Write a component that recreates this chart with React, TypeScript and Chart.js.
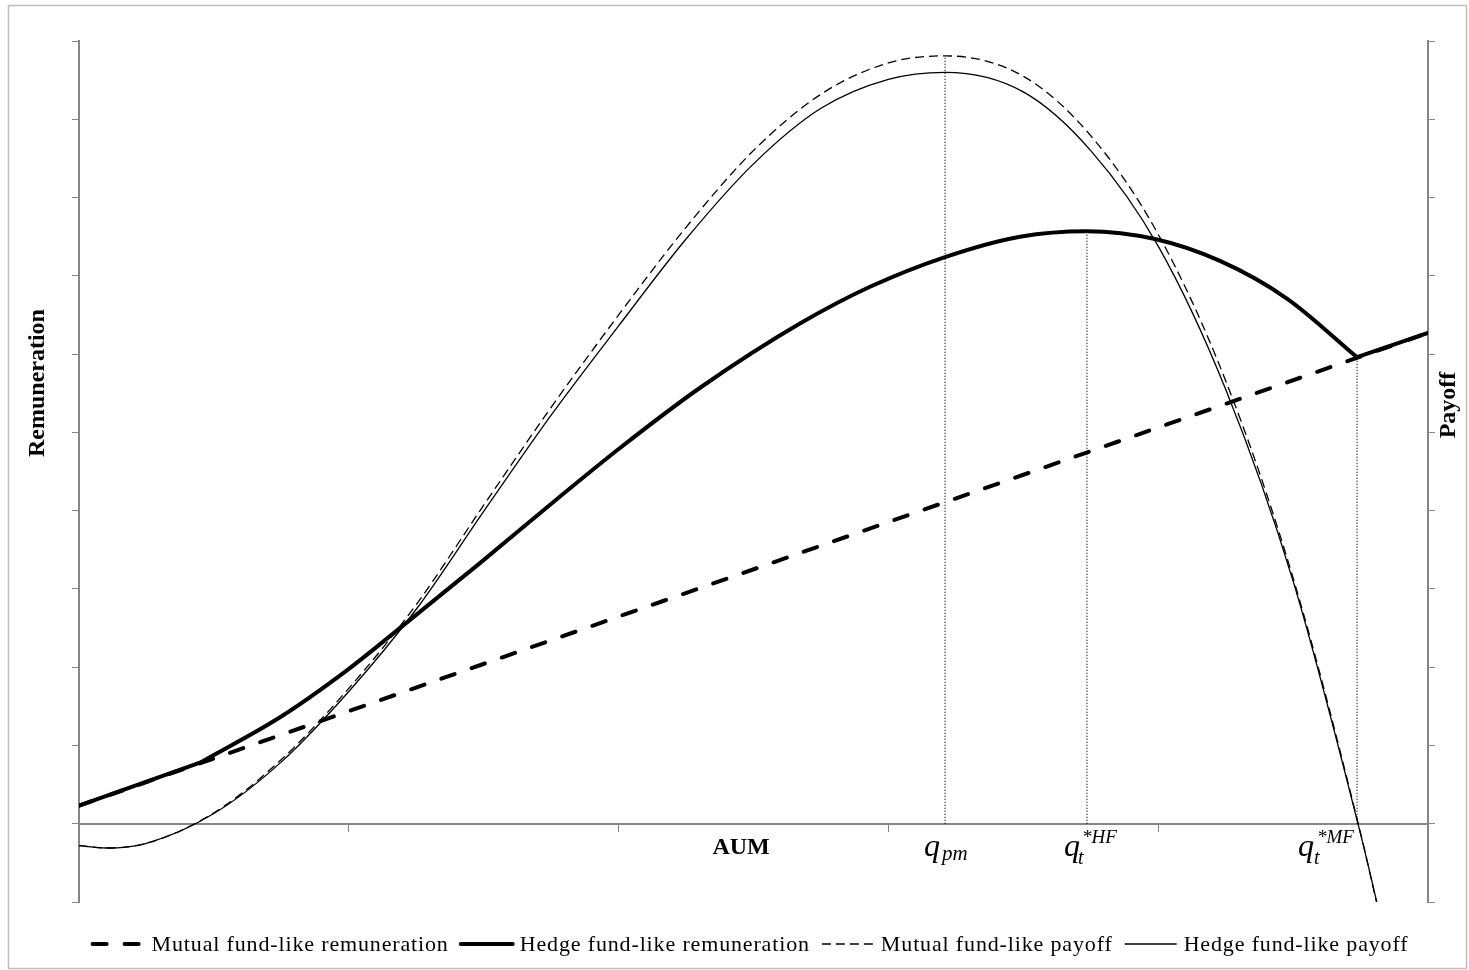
import React, { useEffect, useRef } from 'react';
import { Chart, registerables } from 'chart.js';

Chart.register(...registerables);

// ---- axes ----
const X_MIN = 0;
const X_MAX = 5;
const Y_MIN = -1;
const Y_MAX = 10;

// ---- series (AUM on x, value on y) ----
const MF_REM_X = [0, 5];
const MF_REM_Y = [0.23, 6.27];

const HF_REM_X = [0, 0.4485, 0.745, 0.993, 1.179, 1.486, 1.783, 2.005, 2.302, 2.672, 2.932, 3.21, 3.488, 3.736, 3.988, 4.229, 4.477, 4.737, 5.0];
const HF_REM_Y = [0.23, 0.78, 1.36, 1.96, 2.47, 3.33, 4.18, 4.8, 5.57, 6.39, 6.86, 7.24, 7.5, 7.57, 7.47, 7.19, 6.71, 5.96, 6.27];
const HF_REM_KINKS = [0.4485, 4.737];

const MF_PAY_X = [0, 0.1, 0.25, 0.5, 0.75, 1.0, 1.25, 1.5, 1.75, 2.0, 2.25, 2.5, 2.75, 3.0, 3.21, 3.5, 3.75, 4.0, 4.25, 4.5, 4.75, 4.811];
const MF_PAY_Y = [-0.28, -0.31, -0.25, 0.14, 0.82, 1.73, 2.8, 4.07, 5.32, 6.5, 7.62, 8.6, 9.32, 9.72, 9.81, 9.55, 8.79, 7.53, 5.66, 3.14, -0.12, -1.03];

const HF_PAY_X = [0, 0.1, 0.25, 0.5, 0.75, 1.0, 1.25, 1.5, 1.75, 2.0, 2.25, 2.5, 2.75, 3.0, 3.21, 3.5, 3.75, 4.0, 4.25, 4.5, 4.75, 4.811];
const HF_PAY_Y = [-0.28, -0.31, -0.25, 0.13, 0.79, 1.69, 2.74, 3.99, 5.22, 6.36, 7.47, 8.43, 9.14, 9.51, 9.6, 9.35, 8.6, 7.38, 5.55, 3.1, -0.13, -1.01];

// ---- reference AUM levels (vertical dotted lines) ----
const Q_X = [3.21, 3.736, 4.737];
const Q_TOP = [9.81, 7.57, 5.96];

const SERIES_LABELS = [
  'Mutual fund-like remuneration',
  'Hedge fund-like remuneration',
  'Mutual fund-like payoff',
  'Hedge fund-like payoff',
];
const Y_TITLE = 'Remuneration';
const Y2_TITLE = 'Payoff';
const X_TITLE = 'AUM';

const SERIF = "'Liberation Serif', 'Times New Roman', serif";
const AXIS_COLOR = '#868686';

function toPoints(xs: number[], ys: number[], kinks: number[] = []) {
  const pts: { x: number; y: number | null }[] = [];
  xs.forEach((x, i) => {
    pts.push({ x, y: ys[i] });
    if (kinks.includes(x) && i > 0 && i < xs.length - 1) {
      pts.push({ x, y: null });
      pts.push({ x, y: ys[i] });
    }
  });
  return pts;
}

const decorPlugin = {
  id: 'decor',
  afterDraw(chart: any) {
    const ctx: CanvasRenderingContext2D = chart.ctx;
    const xs = chart.scales.x;
    const ys = chart.scales.y;
    const y0 = ys.getPixelForValue(0);
    ctx.save();

    // outer frame
    ctx.strokeStyle = '#c0c0c0';
    ctx.lineWidth = 1.5;
    ctx.setLineDash([]);
    ctx.strokeRect(8.5, 5.5, chart.width - 11, chart.height - 7);

    ctx.fillStyle = '#000';
    ctx.textAlign = 'left';
    ctx.textBaseline = 'alphabetic';

    // x title
    ctx.font = `bold 24px ${SERIF}`;
    ctx.textAlign = 'center';
    ctx.fillText(X_TITLE, xs.getPixelForValue(2.454), y0 + 30);

    // q labels
    ctx.textAlign = 'left';
    const pPm = xs.getPixelForValue(Q_X[0]);
    const pHf = xs.getPixelForValue(Q_X[1]);
    const pMf = xs.getPixelForValue(Q_X[2]);
    ctx.font = `italic 32px ${SERIF}`;
    ctx.fillText('q', pPm - 21, y0 + 32);
    ctx.fillText('q', pHf - 23, y0 + 32);
    ctx.fillText('q', pMf - 59, y0 + 32);
    ctx.font = `italic 21px ${SERIF}`;
    ctx.fillText('pm', pPm - 3, y0 + 36);
    ctx.font = `italic 20px ${SERIF}`;
    ctx.fillText('t', pHf - 9, y0 + 40);
    ctx.fillText('t', pMf - 43, y0 + 40);
    ctx.font = `italic 19px ${SERIF}`;
    ctx.fillText('*HF', pHf - 5, y0 + 19);
    ctx.fillText('*MF', pMf - 40, y0 + 19);

    // rotated axis titles
    ctx.font = `bold 24px ${SERIF}`;
    ctx.textAlign = 'center';
    ctx.textBaseline = 'middle';
    ctx.save();
    ctx.translate(chart.chartArea.left - 41, ys.getPixelForValue(5.63));
    ctx.rotate(-Math.PI / 2);
    ctx.fillText(Y_TITLE, 0, 0);
    ctx.restore();
    ctx.save();
    ctx.translate(chart.chartArea.right + 21, ys.getPixelForValue(5.35));
    ctx.rotate(-Math.PI / 2);
    ctx.fillText(Y2_TITLE, 0, 0);
    ctx.restore();

    // legend
    ctx.font = `22px ${SERIF}`;
    (ctx as any).letterSpacing = '0.85px';
    const items = chart.data.datasets.slice(0, 4);
    const SAMPLE_W = 52;
    const TEXT_GAP = 7;
    const ITEM_GAP = 12;
    const widths = items.map((d: any) => ctx.measureText(d.label).width);
    const total = widths.reduce((a: number, b: number) => a + b, 0) + items.length * (SAMPLE_W + TEXT_GAP) + (items.length - 1) * ITEM_GAP;
    let x = 750.5 - total / 2;
    const ly = chart.height - 26;
    ctx.textAlign = 'left';
    ctx.textBaseline = 'middle';
    items.forEach((d: any, i: number) => {
      ctx.beginPath();
      ctx.setLineDash(d.borderDash || []);
      ctx.lineWidth = d.borderWidth;
      ctx.lineCap = d.borderCapStyle || 'butt';
      ctx.strokeStyle = d.borderColor;
      ctx.moveTo(x, ly);
      ctx.lineTo(x + SAMPLE_W, ly);
      ctx.stroke();
      ctx.setLineDash([]);
      x += SAMPLE_W + TEXT_GAP;
      ctx.fillStyle = '#000';
      ctx.fillText(d.label, x, ly + 1);
      x += widths[i] + ITEM_GAP;
    });
    ctx.restore();
  },
};

export default function App() {
  const ref = useRef<HTMLCanvasElement>(null);
  useEffect(() => {
    const axisGrid = { drawOnChartArea: false, drawTicks: true, tickLength: 7, color: AXIS_COLOR, lineWidth: 1 };
    const axisBorder = { display: true, color: AXIS_COLOR, width: 2 };
    const vlines = Q_X.map((q, i) => ({
      label: 'q' + i,
      data: [{ x: q, y: 0 }, { x: q, y: Q_TOP[i] }],
      borderColor: '#000',
      borderWidth: 1.2,
      borderDash: [1, 2],
      tension: 0,
      pointRadius: 0,
    }));
    const chart = new Chart(ref.current as HTMLCanvasElement, {
      type: 'line',
      data: {
        datasets: [
          {
            label: SERIES_LABELS[0],
            data: toPoints(MF_REM_X, MF_REM_Y),
            borderColor: '#000',
            borderWidth: 4,
            borderDash: [14, 18],
            borderCapStyle: 'round',
            tension: 0,
            pointRadius: 0,
          },
          {
            label: SERIES_LABELS[1],
            data: toPoints(HF_REM_X, HF_REM_Y, HF_REM_KINKS),
            borderColor: '#000',
            borderWidth: 4,
            borderCapStyle: 'round',
            borderJoinStyle: 'round',
            cubicInterpolationMode: 'monotone',
            pointRadius: 0,
          },
          {
            label: SERIES_LABELS[2],
            data: toPoints(MF_PAY_X, MF_PAY_Y),
            borderColor: '#000',
            borderWidth: 1.3,
            borderDash: [9, 5],
            cubicInterpolationMode: 'monotone',
            pointRadius: 0,
          },
          {
            label: SERIES_LABELS[3],
            data: toPoints(HF_PAY_X, HF_PAY_Y),
            borderColor: '#000',
            borderWidth: 1.3,
            cubicInterpolationMode: 'monotone',
            pointRadius: 0,
          },
          ...vlines,
        ] as any,
      },
      options: {
        responsive: false,
        animation: false,
        layout: { padding: { left: 72, right: 34, top: 41, bottom: 68 } },
        plugins: { legend: { display: false }, tooltip: { enabled: false } },
        elements: { point: { radius: 0 } },
        scales: {
          x: {
            type: 'linear',
            min: X_MIN,
            max: X_MAX,
            position: { y: 0 } as any,
            ticks: { stepSize: 1, display: false },
            grid: axisGrid,
            border: axisBorder,
          },
          y: {
            type: 'linear',
            position: 'left',
            min: Y_MIN,
            max: Y_MAX,
            ticks: { stepSize: 1, display: false },
            grid: axisGrid,
            border: axisBorder,
          },
          y2: {
            type: 'linear',
            position: 'right',
            min: Y_MIN,
            max: Y_MAX,
            ticks: { stepSize: 1, display: false },
            grid: axisGrid,
            border: axisBorder,
          },
        },
      } as any,
      plugins: [decorPlugin],
    });
    return () => chart.destroy();
  }, []);
  return (
    <div style={{ position: 'absolute', left: 0, top: 0, width: 1469, height: 970, background: '#fff' }}>
      <canvas ref={ref} width={1469} height={970} style={{ display: 'block', width: 1469, height: 970 }} />
    </div>
  );
}
